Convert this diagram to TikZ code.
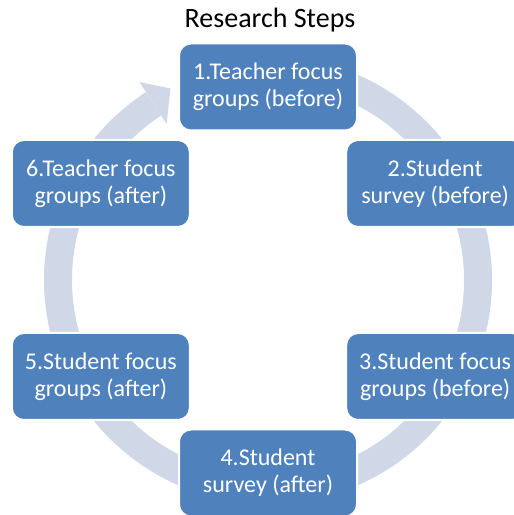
\documentclass[tikz,border=0pt]{standalone}
\usepackage{fontspec}
\setmainfont{Carlito}
\usetikzlibrary{positioning}
\definecolor{boxblue}{HTML}{4F81BD}
\definecolor{ringblue}{HTML}{D0D8E8}
\tikzset{
    % Define step box style
    stepbox/.style={
           rectangle,
           rounded corners=6pt,
           fill=boxblue,
           draw=white,
           line width=1pt,
           text=white,
           align=center,
           minimum width=89pt,
           minimum height=43.5pt,
           font=\fontsize{12}{13.5}\selectfont,},
    % Define ring style
    ring/.style={
           draw=ringblue,
           line width=14pt,}
}

\begin{document}
\begin{tikzpicture}[x=0.5pt, y=0.5pt]
\useasboundingbox (0,0) rectangle (514,515);
\clip (0,0) rectangle (514,515);

%Title
\coordinate (C) at (268,235);
\node[font=\fontsize{14}{16}\selectfont](title) at (270,495){Research Steps};

%Ring
\draw[ring] ([shift={(100:210)}]C) arc[start angle=100, end angle=-237, radius=210];
\fill[ringblue] ([shift={(123:186)}]C) -- ([shift={(117:215)}]C) -- ([shift={(123:236)}]C) -- cycle;

%Nodes
\node[stepbox](s1) at ([shift={(90:193)}]C){1.Teacher focus\\groups (before)};
\node[stepbox](s2) at ([shift={(30:193)}]C){2.Student\\survey (before)};
\node[stepbox](s3) at ([shift={(-30:193)}]C){3.Student focus\\groups (before)};
\node[stepbox](s4) at ([shift={(-90:193)}]C){4.Student\\survey (after)};
\node[stepbox](s5) at ([shift={(-150:193)}]C){5.Student focus\\groups (after)};
\node[stepbox](s6) at ([shift={(150:193)}]C){6.Teacher focus\\groups (after)};

\end{tikzpicture}
\end{document}
